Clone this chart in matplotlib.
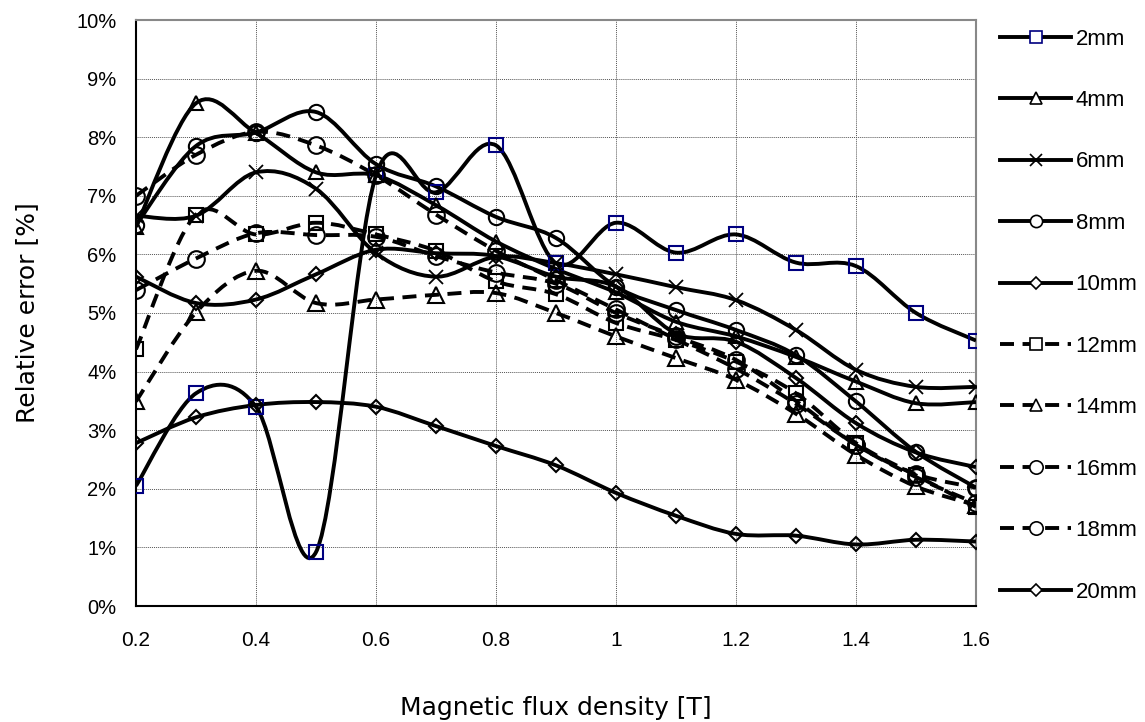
import numpy as np
import matplotlib
matplotlib.use('Agg')
import matplotlib.pyplot as plt
from matplotlib.path import Path
from matplotlib.patches import PathPatch
from matplotlib.lines import Line2D
from matplotlib.ticker import FuncFormatter, MultipleLocator

# ---- data (relative error in %) ----
flux = [0.2, 0.3, 0.4, 0.5, 0.6, 0.7, 0.8, 0.9, 1.0, 1.1, 1.2, 1.3, 1.4, 1.5, 1.6]
labels = ['2mm', '4mm', '6mm', '8mm', '10mm', '12mm', '14mm', '16mm', '18mm', '20mm']

s2mm = [2.05, 3.63, 3.40, 0.92, 7.35, 7.06, 7.86, 5.85, 6.54, 6.03, 6.34, 5.86, 5.80, 5.00, 4.53]
s4mm = [6.47, 8.58, 8.07, 7.40, 7.35, 6.84, 6.22, 5.75, 5.35, 4.85, 4.60, 4.25, 3.83, 3.46, 3.48]
s6mm = [6.66, 6.66, 7.40, 7.12, 6.02, 5.62, 5.96, 5.85, 5.66, 5.44, 5.22, 4.71, 4.03, 3.74, 3.74]
s8mm = [6.50, 7.85, 8.08, 8.43, 7.54, 7.16, 6.64, 6.28, 5.45, 5.05, 4.71, 4.28, 3.49, 2.63, 2.02]
s10mm = [5.62, 5.17, 5.23, 5.66, 6.08, 6.02, 5.97, 5.62, 5.45, 4.65, 4.51, 3.89, 3.12, 2.62, 2.37]
s12mm = [4.38, 6.68, 6.34, 6.54, 6.34, 6.06, 5.54, 5.32, 4.83, 4.54, 4.17, 3.63, 2.78, 2.23, 1.69]
s14mm = [3.49, 5.01, 5.72, 5.17, 5.23, 5.31, 5.34, 5.00, 4.60, 4.23, 3.86, 3.28, 2.58, 2.04, 1.72]
s16mm = [5.39, 5.93, 6.36, 6.33, 6.30, 5.97, 5.69, 5.50, 5.00, 4.60, 4.20, 3.50, 2.75, 2.25, 2.02]
s18mm = [7.00, 7.70, 8.09, 7.86, 7.35, 6.68, 6.06, 5.56, 5.06, 4.55, 4.05, 3.45, 2.75, 2.20, 1.75]
s20mm = [2.78, 3.22, 3.43, 3.48, 3.40, 3.07, 2.73, 2.40, 1.93, 1.54, 1.23, 1.20, 1.05, 1.13, 1.10]

series = [s2mm, s4mm, s6mm, s8mm, s10mm, s12mm, s14mm, s16mm, s18mm, s20mm]

markers = ['s', '^', 'x', 'o', 'D', 's', '^', 'o', 'o', 'D']
msizes = [10, 10.5, 10, 11, 7.5, 10.5, 11, 12, 12, 7.5]
dashed = [False, False, False, False, False, True, True, True, True, False]
medge = ['#000080'] + ['black'] * 9


def smooth_path(x, y):
    p = np.column_stack([x, y]).astype(float)
    n = len(p)
    verts = [p[0]]
    codes = [Path.MOVETO]
    for i in range(n - 1):
        p0 = p[i - 1] if i > 0 else p[i]
        p1 = p[i]
        p2 = p[i + 1]
        p3 = p[i + 2] if i + 2 < n else p[i + 1]
        c1 = p1 + (p2 - p0) / 6.0
        c2 = p2 - (p3 - p1) / 6.0
        verts += [c1, c2, p2]
        codes += [Path.CURVE4] * 3
    return Path(verts, codes)


fig = plt.figure(figsize=(11.45, 7.22), dpi=100)
ax = fig.add_axes([136 / 1145, 116 / 722, 840 / 1145, 586 / 722])

LW = 2.8
DASH = (0, (3.6, 2.2))
handles = []
for vals, lab, mk, ms, ds, me in zip(series, labels, markers, msizes, dashed, medge):
    ls = DASH if ds else '-'
    patch = PathPatch(smooth_path(flux, vals), fill=False, edgecolor='black',
                      lw=LW, linestyle=ls, zorder=3, capstyle='butt')
    ax.add_patch(patch)
    mew = 1.5 if mk != 'x' else 1.3
    ax.plot(flux, vals, linestyle='none', marker=mk, markersize=ms,
            markerfacecolor='none', markeredgecolor=me, markeredgewidth=mew, zorder=4)
    handles.append(Line2D([], [], color='black', lw=LW, linestyle=ls, marker=mk,
                          markersize=ms * 0.8, markerfacecolor='white',
                          markeredgecolor=me, markeredgewidth=1.2))

ax.set_xlim(0.2, 1.6)
ax.set_ylim(0, 10)
ax.xaxis.set_major_locator(MultipleLocator(0.2))
ax.yaxis.set_major_locator(MultipleLocator(1))
ax.yaxis.set_major_formatter(FuncFormatter(lambda v, p: f'{int(round(v))}%'))
ax.xaxis.set_major_formatter(FuncFormatter(
    lambda v, p: f'{int(round(v))}' if abs(v - round(v)) < 1e-9 else f'{v:.1f}'))
ax.grid(True, color='#555555', linestyle=(0, (1, 1)), linewidth=0.7, zorder=0)
ax.tick_params(length=0, labelsize=14.5, pad=14)
ax.tick_params(axis='x', labelsize=15, pad=18)
for t in ax.get_xticklabels() + ax.get_yticklabels():
    t.set_fontfamily(['Liberation Sans', 'DejaVu Sans'])

for side in ['left', 'bottom']:
    ax.spines[side].set_color('black')
    ax.spines[side].set_linewidth(1.5)
for side in ['top', 'right']:
    ax.spines[side].set_color('#888888')
    ax.spines[side].set_linewidth(1.5)

ax.set_xlabel('Magnetic flux density [T]', fontsize=18, labelpad=33,
              family=['DejaVu Sans'])
ax.set_ylabel('Relative error [%]', fontsize=18, labelpad=27,
              family=['DejaVu Sans'])

leg = ax.legend(handles, labels, loc='upper left', bbox_to_anchor=(1.01, 1.012),
                frameon=False, labelspacing=1.82, handlelength=3.2,
                handletextpad=0.2, borderaxespad=0.3,
                prop={'family': ['Liberation Sans', 'DejaVu Sans'], 'size': 16})

fig.savefig('out.png', dpi=100)
